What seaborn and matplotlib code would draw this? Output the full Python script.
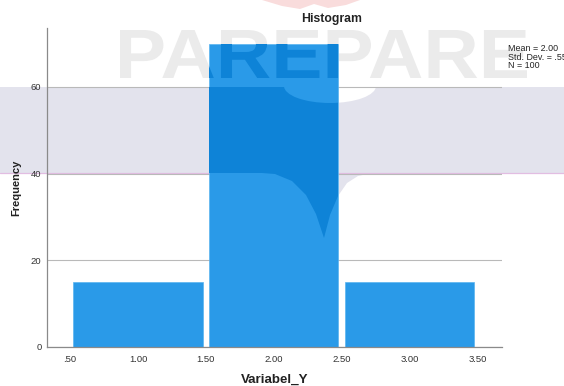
import numpy as np
import pandas as pd
import matplotlib
matplotlib.use("Agg")
import matplotlib.pyplot as plt
import seaborn as sns
from matplotlib.patches import Polygon, PathPatch, Ellipse
from matplotlib.lines import Line2D
from matplotlib.textpath import TextPath
from matplotlib.font_manager import FontProperties
from matplotlib.path import Path

# --- data -------------------------------------------------------------
bin_centers = [1.0, 2.0, 3.0]
frequencies = [15, 70, 15]
bin_edges = [0.5, 1.5, 2.5, 3.5]
x_ticks = [0.5, 1.0, 1.5, 2.0, 2.5, 3.0, 3.5]
x_tick_labels = [".50", "1.00", "1.50", "2.00", "2.50", "3.00", "3.50"]
y_ticks = [0, 20, 40, 60]
variable_name = "Variabel_Y"

# --- style ------------------------------------------------------------
W, H = 564, 386
BAR = "#2a9ae8"
BAR_DARK = "#0e83d7"
BAND = "#e3e3ed"
MARK_GRAY = "#ebebeb"

sns.set_theme(style="white")
plt.rcParams["font.family"] = ["Liberation Sans", "DejaVu Sans"]

fig = plt.figure(figsize=(W / 100, H / 100), dpi=100)
fig.patch.set_facecolor("white")


def fxy(x, y):
    """pixel position (from top-left) -> figure fraction"""
    return (x / W, 1 - y / H)


# --- background logo ----------------------------------------------------
band_px = [(0, 87), (W, 87), (W, 173), (372, 173), (358, 176), (347, 183),
           (338, 196), (330, 215), (324, 238), (316, 214), (306, 195),
           (292, 181), (275, 174), (262, 173), (0, 173)]
band_verts = [fxy(*p) for p in band_px]
lobe_center = fxy(330, 86)
lobe_w, lobe_h = 92 / W, 34 / H
crown_px = [(262, 0), (282, 6), (300, 9), (314, 4), (328, 8), (346, 5), (360, 0)]

fp = FontProperties(family="Liberation Sans", weight="bold")
tp = TextPath((0, 0), "PAREPARE", size=100, prop=fp)
ext = tp.get_extents()
x0, x1, ytop, ybot = 120, 527, 30, 78
v = tp.vertices.copy()
v[:, 0] = x0 + (v[:, 0] - ext.x0) / ext.width * (x1 - x0)
v[:, 1] = ybot - (v[:, 1] - ext.y0) / ext.height * (ybot - ytop)
word_path = Path(np.column_stack([v[:, 0] / W, 1 - v[:, 1] / H]), tp.codes)

fig.add_artist(Polygon(band_verts, closed=True, facecolor=BAND, edgecolor="none",
                       transform=fig.transFigure, zorder=-3))
fig.add_artist(Ellipse(lobe_center, lobe_w, lobe_h, facecolor="white",
                       edgecolor="none", transform=fig.transFigure, zorder=-2.5))
fig.add_artist(Polygon([fxy(*p) for p in crown_px], closed=True, facecolor="#f9dcdc",
                       edgecolor="none", transform=fig.transFigure, zorder=-2))
fig.add_artist(PathPatch(word_path, facecolor=MARK_GRAY, edgecolor="none",
                         transform=fig.transFigure, zorder=-2))
fig.add_artist(Line2D([0, 1], [1 - 173 / H] * 2, color="#e2bde2", lw=0.9,
                      transform=fig.transFigure, zorder=-1.5))

# --- histogram ----------------------------------------------------------
ax = fig.add_axes([47 / W, 1 - 347 / H, (502 - 47) / W, (347 - 28) / H])
ax.patch.set_alpha(0)

df = pd.DataFrame({variable_name: bin_centers, "Frequency": frequencies})
sns.histplot(data=df, x=variable_name, weights="Frequency", bins=bin_edges,
             shrink=0.95, color=BAR, alpha=1, edgecolor="#5ab4f0", linewidth=0.5,
             ax=ax)

# logo tint where it sits under the bars
for bar in list(ax.patches):
    dark = Polygon(band_verts, closed=True, facecolor=BAR_DARK, edgecolor="none",
                   transform=fig.transFigure, zorder=1.1)
    ax.add_artist(dark)
    dark.set_clip_path(bar)
    lobe = Ellipse(lobe_center, lobe_w, lobe_h, facecolor=BAR, edgecolor="none",
                   transform=fig.transFigure, zorder=1.2)
    ax.add_artist(lobe)
    lobe.set_clip_path(bar)
    word = PathPatch(word_path, facecolor=BAR_DARK, edgecolor="none",
                     transform=fig.transFigure, zorder=1.3)
    ax.add_artist(word)
    word.set_clip_path(bar)

ax.set_xlim(0.33, 3.68)
ax.set_ylim(0, 73.6)
ax.set_xticks(x_ticks)
ax.set_xticklabels(x_tick_labels)
ax.set_yticks(y_ticks)
ax.set_axisbelow(True)
ax.yaxis.grid(True, color="#b9b9b9", lw=0.8)
ax.xaxis.grid(False)
ax.tick_params(axis="both", length=0, labelsize=6.8, colors="#333333")
ax.tick_params(axis="y", pad=4)
ax.tick_params(axis="x", pad=6)
for side in ("top", "right"):
    ax.spines[side].set_visible(False)
for side in ("left", "bottom"):
    ax.spines[side].set_color("#8a8a8a")
    ax.spines[side].set_linewidth(0.9)

ax.set_xlabel(variable_name, fontsize=9.6, fontweight="bold", color="#222222", labelpad=7)
ax.set_ylabel("Frequency", fontsize=8, fontweight="bold", color="#222222", labelpad=7)

fig.text(332 / W, 1 - 19 / H, "Histogram", ha="center", va="center",
         fontsize=8.8, fontweight="bold", color="#222222")

# summary statistics
vals = np.repeat(bin_centers, frequencies)
n = len(vals)
mean = vals.mean()
sd = vals.std(ddof=1)
stats = f"Mean = {mean:.2f}\nStd. Dev. = {sd:.3f}".replace("= 0.", "= .") + f"\nN = {n}"
fig.text(508 / W, 1 - 44 / H, stats, ha="left", va="top", fontsize=6.4,
         linespacing=0.95, color="#222222")

fig.savefig("out.png", dpi=100, facecolor="white")
